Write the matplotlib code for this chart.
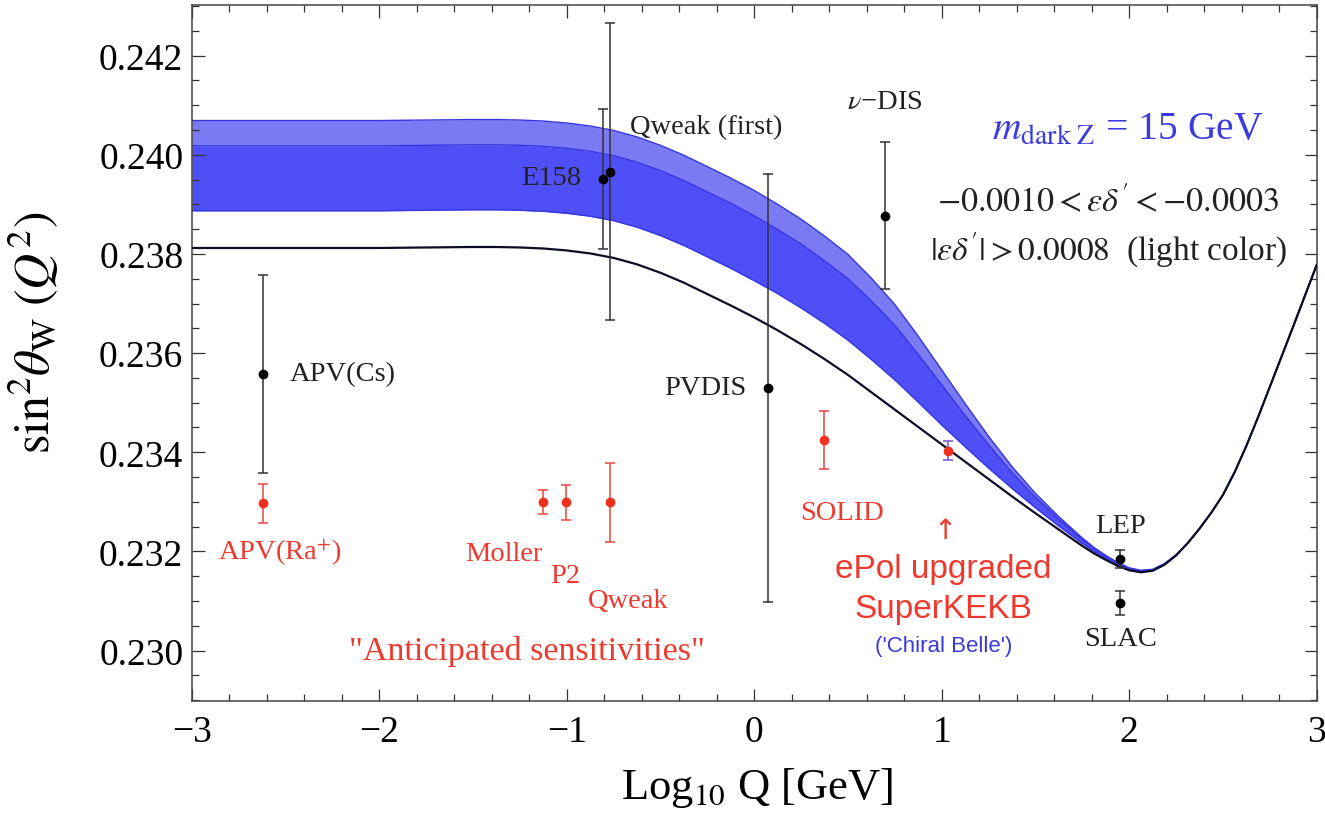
import numpy as np
import matplotlib
matplotlib.use("Agg")
import matplotlib.pyplot as plt
from matplotlib.ticker import MultipleLocator, FormatStrFormatter

plt.rcParams['font.family'] = ['Liberation Serif', 'DejaVu Serif']
plt.rcParams['mathtext.fontset'] = 'stix'

# ---------------- data ----------------
x_curve = [-3.0, -2.5, -2.0, -1.75, -1.5, -1.375, -1.25, -1.125, -1.0, -0.875,
           -0.75, -0.625, -0.5, -0.375, -0.25, -0.125, 0.0, 0.125, 0.25, 0.375,
           0.5, 0.625, 0.75, 0.875, 1.0, 1.125, 1.25, 1.375, 1.5, 1.625,
           1.75, 1.8125, 1.875, 1.9375, 2.0, 2.0625, 2.125, 2.1875, 2.25, 2.3125,
           2.375, 2.4375, 2.5, 2.5625, 2.625, 2.6875, 2.75, 2.8125, 2.875, 2.9375, 3.0]
sm_curve = [0.23812, 0.23812, 0.23812, 0.23813, 0.23814, 0.23814, 0.23813, 0.23811, 0.23807, 0.23801,
            0.23792, 0.23779, 0.23762, 0.23742, 0.23719, 0.23696, 0.23672, 0.23646, 0.23618, 0.23588,
            0.23556, 0.23521, 0.23486, 0.23451, 0.23416, 0.23381, 0.23346, 0.23311, 0.23277, 0.23244,
            0.23211, 0.23196, 0.23183, 0.23171, 0.23162, 0.23158, 0.23161, 0.23173, 0.23192, 0.23217,
            0.23246, 0.23278, 0.23314, 0.23360, 0.23413, 0.23471, 0.23532, 0.23593, 0.23654, 0.23716, 0.23778]
band_top = [0.24069, 0.24069, 0.24069, 0.24070, 0.24071, 0.24071, 0.24070, 0.24068, 0.24064, 0.24058,
            0.24049, 0.24036, 0.24019, 0.23999, 0.23976, 0.23953, 0.23928, 0.23900, 0.23870, 0.23836,
            0.23799, 0.23751, 0.23698, 0.23634, 0.23566, 0.23498, 0.23432, 0.23371, 0.23317, 0.23270,
            0.23227, 0.23208, 0.23192, 0.23178, 0.23167, 0.23162, 0.23164, 0.23175, 0.23193, 0.23217,
            0.23246, 0.23278, 0.23314, 0.23360, 0.23413, 0.23471, 0.23532, 0.23593, 0.23654, 0.23716, 0.23778]
band_mid = [0.24018, 0.24018, 0.24018, 0.24019, 0.24020, 0.24020, 0.24019, 0.24017, 0.24013, 0.24007,
            0.23998, 0.23985, 0.23968, 0.23948, 0.23925, 0.23902, 0.23877, 0.23849, 0.23820, 0.23786,
            0.23750, 0.23705, 0.23656, 0.23597, 0.23536, 0.23474, 0.23415, 0.23359, 0.23309, 0.23265,
            0.23224, 0.23206, 0.23190, 0.23176, 0.23166, 0.23161, 0.23163, 0.23175, 0.23193, 0.23217,
            0.23246, 0.23278, 0.23314, 0.23360, 0.23413, 0.23471, 0.23532, 0.23593, 0.23654, 0.23716, 0.23778]
band_bot = [0.23887, 0.23887, 0.23887, 0.23888, 0.23889, 0.23889, 0.23888, 0.23886, 0.23882, 0.23876,
            0.23867, 0.23854, 0.23837, 0.23817, 0.23794, 0.23771, 0.23746, 0.23720, 0.23691, 0.23660,
            0.23626, 0.23587, 0.23546, 0.23501, 0.23455, 0.23411, 0.23368, 0.23327, 0.23288, 0.23251,
            0.23216, 0.23200, 0.23186, 0.23173, 0.23164, 0.23159, 0.23162, 0.23174, 0.23192, 0.23217,
            0.23246, 0.23278, 0.23314, 0.23360, 0.23413, 0.23471, 0.23532, 0.23593, 0.23654, 0.23716, 0.23778]

black_names = ["APV(Cs)", "E158", "Qweak (first)", "PVDIS", "ν−DIS", "LEP", "SLAC"]
black_x = [-2.618, -0.805, -0.769, 0.075, 0.698, 1.951, 1.951]
black_y = [0.23558, 0.23951, 0.23966, 0.23530, 0.23877, 0.23185, 0.23096]
black_err = [0.00200, 0.00142, 0.00300, 0.00431, 0.00148, 0.00018, 0.00025]

red_names = ["APV(Ra$^{+}$)", "Moller", "P2", "Qweak", "SOLID", "Chiral Belle"]
red_x = [-2.618, -1.125, -1.004, -0.769, 0.372, 1.035]
red_y = [0.23297, 0.23299, 0.23299, 0.23299, 0.23425, 0.23403]
red_err = [0.00039, 0.00024, 0.00036, 0.00080, 0.00059, 0.00019]

x_ticks = [-3, -2, -1, 0, 1, 2, 3]
y_ticks = [0.230, 0.232, 0.234, 0.236, 0.238, 0.240, 0.242]

# ---------------- figure ----------------
fig = plt.figure(figsize=(13.25, 8.2), dpi=100)
ax = fig.add_axes([0.14468, 0.14427, 0.84906, 0.84841])

dark_blue = '#4f4ff7'
light_blue = '#7a7af5'
edge_blue = '#3535e0'

ax.fill_between(x_curve, band_bot, band_mid, color=dark_blue, lw=0, zorder=1)
ax.fill_between(x_curve, band_mid, band_top, color=light_blue, lw=0, zorder=1)
ax.plot(x_curve, band_top, color=edge_blue, lw=1.0, zorder=2)
ax.plot(x_curve, band_mid, color=edge_blue, lw=1.0, zorder=2)
ax.plot(x_curve, band_bot, color=edge_blue, lw=1.0, zorder=2)
ax.plot(x_curve, sm_curve, color='#0d0d25', lw=1.6, zorder=3)

ax.errorbar(black_x, black_y, yerr=black_err, fmt='o', color='black', ms=6,
            ecolor='#333333', elinewidth=1.1, capsize=3.5, capthick=1.1, zorder=5)
red_ecol = ['#e8453a'] * 5 + ['#7050c8']
for xi, yi, ei, ec in zip(red_x, red_y, red_err, red_ecol):
    ax.errorbar([xi], [yi], yerr=[ei], fmt='o', color='#f0301e', ms=6,
                ecolor=ec, elinewidth=1.1, capsize=3.5, capthick=1.1, zorder=5)

# ---------------- axes styling ----------------
ax.set_xlim(-3, 3)
ax.set_ylim(0.22899, 0.24302)
ax.set_xticks(x_ticks)
ax.set_yticks(y_ticks)
ax.xaxis.set_minor_locator(MultipleLocator(0.2))
ax.yaxis.set_minor_locator(MultipleLocator(0.0005))
ax.yaxis.set_major_formatter(FormatStrFormatter('%.3f'))
ax.tick_params(which='both', direction='in', top=True, right=True,
               color='#333333', width=0.9)
ax.tick_params(which='major', length=9, labelsize=27)
ax.tick_params(axis='x', which='major', pad=10)
ax.tick_params(axis='y', which='major', pad=6)
ax.tick_params(which='minor', length=5)
for s in ax.spines.values():
    s.set_color('#444444')
    s.set_linewidth(1.1)

ax.set_xlabel(r'Log$_{10}$ Q [GeV]', fontsize=32)
ax.xaxis.set_label_coords(0.5025, -0.092)
ax.set_ylabel(r'$\mathrm{sin}^2\theta_{\mathrm{W}}\;(Q^2)$', fontsize=36)
ax.yaxis.set_label_coords(-0.116, 0.53)

# ---------------- labels ----------------
lab = dict(fontsize=20.5, color='#222222')
ax.text(-2.476, 0.23558, black_names[0], ha='left', va='center', **lab)
ax.text(-0.92, 0.23955, black_names[1], ha='right', va='center', **lab)
ax.text(-0.661, 0.24056, black_names[2], ha='left', va='center', **lab)
ax.text(-0.04, 0.23531, black_names[3], ha='right', va='center', **lab)
ax.text(0.698, 0.24107, r'$\nu$' + '−DIS', ha='center', va='center', **lab)
ax.text(1.951, 0.23252, black_names[5], ha='center', va='center', **lab)
ax.text(1.955, 0.23024, black_names[6], ha='center', va='center', **lab)

rlab = dict(fontsize=20.5, color='#ee3a2e')
ax.text(-2.529, 0.23199, red_names[0], ha='center', va='center', **rlab)
ax.text(-1.13, 0.23195, red_names[1], ha='right', va='center', **rlab)
ax.text(-1.009, 0.23151, red_names[2], ha='center', va='center', **rlab)
ax.text(-0.885, 0.23101, red_names[3], ha='left', va='center', **rlab)
ax.text(0.467, 0.23279, red_names[4], ha='center', va='center', **rlab)
ax.text(-1.21, 0.23000, '"Anticipated sensitivities"', ha='center', va='center',
        fontsize=24.5, color='#ee3a2e')

ax.text(1.019, 0.23243, '↑', ha='center', va='center', fontsize=20,
        color='#ee3a2e', family='DejaVu Sans')
ax.text(1.008, 0.23165, 'ePol upgraded', ha='center', va='center', fontsize=24,
        color='#ee3a2e', family='Liberation Sans')
ax.text(1.008, 0.23084, 'SuperKEKB', ha='center', va='center', fontsize=24,
        color='#ee3a2e', family='Liberation Sans')
ax.text(1.008, 0.23010, "('Chiral Belle')", ha='center', va='center', fontsize=16,
        color='#3a3ad8', family='Liberation Sans')

ax.text(1.99, 0.24052, r'$m_{\mathrm{dark\ Z}}$ = 15 GeV', ha='center', va='center',
        fontsize=28.5, color='#3b3be0')
ax.text(1.89, 0.23908, r"$-0.0010 < \varepsilon\delta' < -0.0003$", ha='center',
        va='center', fontsize=24.5, color='#222222')
ax.text(1.89, 0.23810, r"$|\varepsilon\delta'| > 0.0008$  (light color)", ha='center',
        va='center', fontsize=24, color='#222222')

fig.savefig('out.png', dpi=100, facecolor='white')
